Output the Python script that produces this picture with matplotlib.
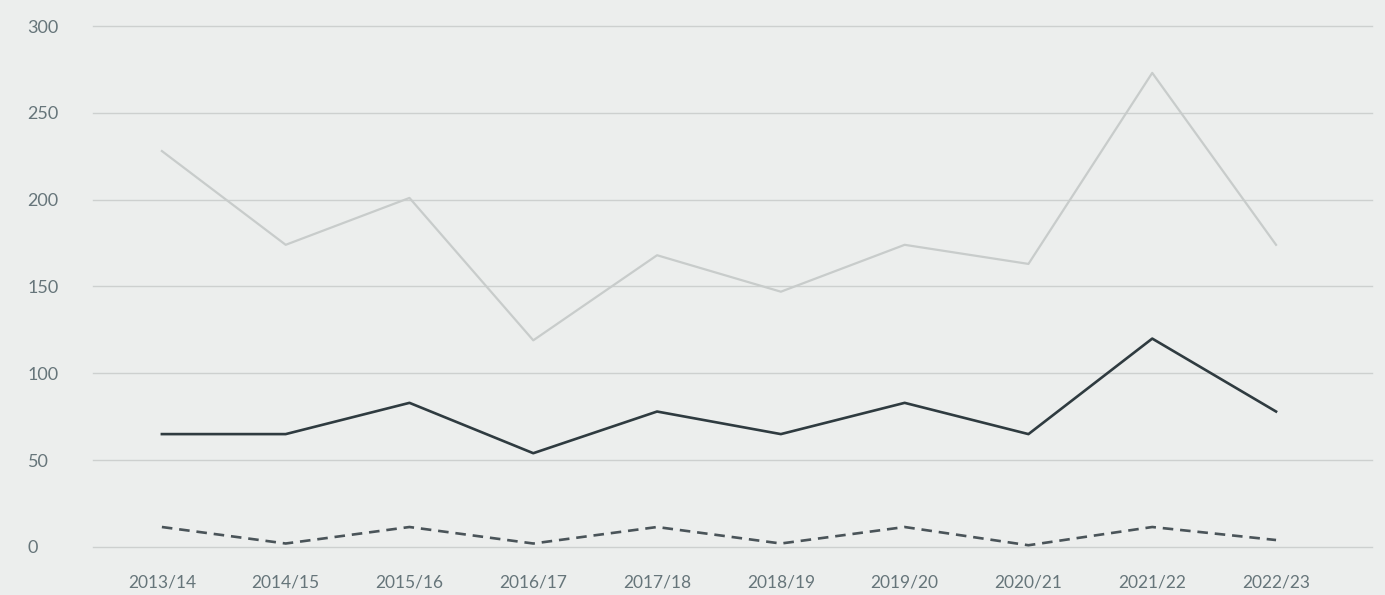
import numpy as np
import matplotlib
matplotlib.use("Agg")
import matplotlib.pyplot as plt

# Data
seasons = ["2013/14", "2014/15", "2015/16", "2016/17", "2017/18",
           "2018/19", "2019/20", "2020/21", "2021/22", "2022/23"]
total = [228, 174, 201, 119, 168, 147, 174, 163, 273, 174]
middle = [65, 65, 83, 54, 78, 65, 83, 65, 120, 78]
lower = [11.5, 2, 11.5, 2, 11.5, 2, 11.5, 1, 11.5, 4]
yticks = [0, 50, 100, 150, 200, 250, 300]

bg = "#eceeed"
plt.rcParams["font.family"] = ["Lato", "DejaVu Sans"]

fig = plt.figure(figsize=(13.85, 5.95), dpi=100, facecolor=bg)
ax = fig.add_axes([0.0671, 0.0807, 0.9235, 0.8756])
ax.set_facecolor(bg)

x = np.arange(len(seasons))
ax.plot(x, total, color="#c8cccb", lw=1.6, zorder=3)
ax.plot(x, middle, color="#2f3b40", lw=1.9, zorder=3)
ax.plot(x, lower, color="#4a5459", lw=1.9, dashes=(4, 2.6), zorder=3)

ax.set_xlim(-0.557, 9.775)
ax.set_ylim(0, 300)
ax.set_yticks(yticks)
ax.set_xticks(x)
ax.set_xticklabels(seasons)
ax.grid(axis="y", color="#cdd0cf", lw=1.0, zorder=1)
ax.set_axisbelow(True)
for gl in ax.get_ygridlines():
    gl.set_clip_on(False)
for s in ax.spines.values():
    s.set_visible(False)

ax.tick_params(axis="y", length=0, pad=47, labelsize=13, labelcolor="#66757a")
ax.tick_params(axis="x", length=0, pad=20, labelsize=12.5, labelcolor="#66757a")
for lab in ax.get_yticklabels():
    lab.set_horizontalalignment("left")

fig.savefig("out.png", dpi=100, facecolor=bg)
